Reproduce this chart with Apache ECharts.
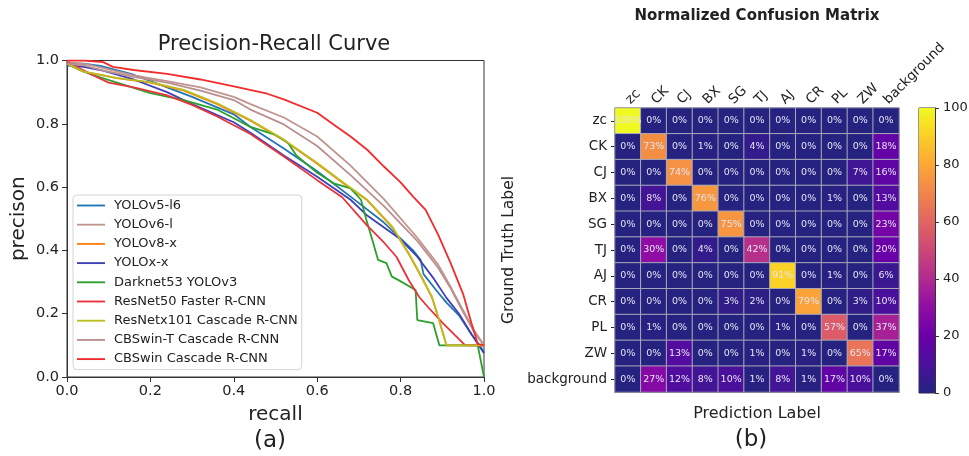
<!DOCTYPE html>
<html><head><meta charset="utf-8">
<script src="https://cdn.jsdelivr.net/npm/echarts@6/dist/echarts.min.js"></script>
<style>html,body{margin:0;padding:0;background:#fff}#c{width:969px;height:456px}</style>
</head><body><div id="c"></div>
<script>
const FONT = 'DejaVu Sans';

// ---------- Precision-Recall data: [recall, precision] ----------
const yolov5_l6 = [[0,0.99],[0.04,0.99],[0.08,0.983],[0.16,0.955],[0.24,0.915],[0.30,0.885],[0.40,0.83],[0.44,0.79],[0.52,0.722],[0.60,0.65],[0.68,0.57],[0.76,0.488],[0.83,0.40],[0.848,0.37],[0.855,0.325],[0.885,0.275],[0.91,0.235],[0.94,0.195],[0.97,0.135],[1.0,0.08]];
const yolov6_l = [[0,0.995],[0.04,0.99],[0.08,0.978],[0.16,0.953],[0.24,0.935],[0.32,0.915],[0.40,0.885],[0.44,0.862],[0.52,0.82],[0.60,0.76],[0.68,0.668],[0.76,0.562],[0.84,0.44],[0.89,0.355],[0.92,0.285],[0.95,0.21],[0.975,0.15],[1.0,0.1]];
const yolov8_x = [[0,0.99],[0.04,0.965],[0.12,0.944],[0.20,0.93],[0.28,0.905],[0.36,0.862],[0.44,0.81],[0.52,0.748],[0.60,0.674],[0.665,0.61],[0.72,0.558],[0.78,0.473],[0.82,0.388],[0.85,0.316],[0.875,0.252],[0.89,0.19],[0.91,0.10],[1.0,0.10]];
const yolox_x = [[0,0.985],[0.04,0.98],[0.08,0.97],[0.16,0.94],[0.24,0.90],[0.30,0.862],[0.40,0.805],[0.44,0.772],[0.52,0.70],[0.60,0.633],[0.68,0.56],[0.72,0.51],[0.746,0.486],[0.80,0.435],[0.84,0.38],[0.88,0.31],[0.91,0.25],[0.94,0.20],[0.97,0.135],[1.0,0.075]];
const darknet53_yolov3 = [[0,0.99],[0.03,0.97],[0.06,0.955],[0.12,0.93],[0.20,0.897],[0.28,0.875],[0.36,0.845],[0.44,0.79],[0.50,0.765],[0.53,0.74],[0.55,0.70],[0.60,0.645],[0.64,0.612],[0.68,0.596],[0.705,0.56],[0.718,0.496],[0.73,0.443],[0.746,0.37],[0.766,0.36],[0.779,0.317],[0.795,0.306],[0.836,0.275],[0.84,0.18],[0.878,0.17],[0.893,0.10],[0.985,0.10],[1.0,0.0]];
const resnet50_faster = [[0,0.995],[0.03,0.975],[0.06,0.955],[0.10,0.93],[0.16,0.915],[0.24,0.89],[0.30,0.86],[0.36,0.823],[0.44,0.768],[0.52,0.697],[0.60,0.622],[0.66,0.568],[0.72,0.478],[0.76,0.425],[0.79,0.38],[0.82,0.305],[0.845,0.252],[0.865,0.222],[0.90,0.172],[0.94,0.12],[0.955,0.10],[1.0,0.10]];
const resnetx101_cascade = [[0,0.99],[0.04,0.965],[0.12,0.944],[0.20,0.932],[0.28,0.907],[0.36,0.865],[0.44,0.812],[0.52,0.75],[0.60,0.676],[0.665,0.612],[0.72,0.56],[0.78,0.475],[0.82,0.39],[0.85,0.318],[0.875,0.254],[0.89,0.19],[0.91,0.10],[1.0,0.10]];
const cbswin_t_cascade = [[0,0.99],[0.04,0.985],[0.08,0.97],[0.16,0.948],[0.24,0.93],[0.32,0.905],[0.40,0.875],[0.44,0.845],[0.52,0.798],[0.60,0.73],[0.68,0.638],[0.76,0.54],[0.84,0.43],[0.89,0.345],[0.92,0.28],[0.95,0.205],[0.975,0.145],[1.0,0.1]];
const cbswin_cascade = [[0,1.0],[0.04,1.0],[0.087,0.995],[0.11,0.98],[0.16,0.97],[0.24,0.958],[0.32,0.94],[0.40,0.918],[0.48,0.895],[0.52,0.877],[0.60,0.835],[0.64,0.797],[0.68,0.76],[0.72,0.718],[0.76,0.665],[0.80,0.615],[0.83,0.57],[0.86,0.528],[0.89,0.45],[0.92,0.36],[0.95,0.262],[0.97,0.17],[0.985,0.105],[1.0,0.1]];

const prNames = ['YOLOv5-l6','YOLOv6-l','YOLOv8-x','YOLOx-x','Darknet53 YOLOv3','ResNet50 Faster R-CNN','ResNetx101 Cascade R-CNN','CBSwin-T Cascade R-CNN','CBSwin Cascade R-CNN'];
const prData = [yolov5_l6, yolov6_l, yolov8_x, yolox_x, darknet53_yolov3, resnet50_faster, resnetx101_cascade, cbswin_t_cascade, cbswin_cascade];
const prColors = ['#1f77b4','#c09590','#ff7f0e','#3f40b5','#2ca02c','#e8333a','#bcbd22','#bc8f8f','#f22b2b'];

// ---------- Confusion matrix (rows: ground truth, cols: prediction), % ----------
const cmClasses = ['zc','CK','CJ','BX','SG','TJ','AJ','CR','PL','ZW','background'];
const row_zc = [100,0,0,0,0,0,0,0,0,0,0];
const row_CK = [0,73,0,1,0,4,0,0,0,0,18];
const row_CJ = [0,0,74,0,0,0,0,0,0,7,16];
const row_BX = [0,8,0,76,0,0,0,0,1,0,13];
const row_SG = [0,0,0,0,75,0,0,0,0,0,23];
const row_TJ = [0,30,0,4,0,42,0,0,0,0,20];
const row_AJ = [0,0,0,0,0,0,91,0,1,0,6];
const row_CR = [0,0,0,0,3,2,0,79,0,3,10];
const row_PL = [0,1,0,0,0,0,1,0,57,0,37];
const row_ZW = [0,0,13,0,0,1,0,1,0,65,17];
const row_background = [0,27,12,8,10,1,8,1,17,10,0];
const cmRows = [row_zc,row_CK,row_CJ,row_BX,row_SG,row_TJ,row_AJ,row_CR,row_PL,row_ZW,row_background];

const colorbarTicks = [0,20,40,60,80,100];
const prTicks = [0.0,0.2,0.4,0.6,0.8,1.0];

const plasma = ['#25237f','#4a109c','#6a00a8','#8f0da4','#b12a90','#cc4778','#e16462','#f2844b','#fca636','#fcce25','#f0f921'];

const heatData = [];
cmRows.forEach((row, r) => row.forEach((v, c) => heatData.push([c, r, v])));

const axisCol = '#333';
const txtCol = '#222';

const series = prData.map((d, i) => ({
  type: 'line', name: prNames[i], data: d, xAxisIndex: 0, yAxisIndex: 0,
  symbol: 'none', showSymbol: false, animation: false,
  lineStyle: { width: 1.8, color: prColors[i] }, itemStyle: { color: prColors[i] },
  emphasis: { disabled: true }
}));

series.push({
  type: 'heatmap', xAxisIndex: 1, yAxisIndex: 1, data: heatData, animation: false,
  itemStyle: { borderColor: '#a9a9ba', borderWidth: 1 },
  label: { show: true, formatter: p => p.value[2] + '%', fontSize: 9.5, color: '#e6e4f4', fontFamily: FONT },
  emphasis: { disabled: true }
});

series.push({
  type: 'bar', xAxisIndex: 3, yAxisIndex: 2, data: [colorbarTicks[colorbarTicks.length - 1]],
  barWidth: '100%', animation: false, silent: true,
  itemStyle: { color: { type: 'linear', x: 0, y: 1, x2: 0, y2: 0,
    colorStops: plasma.map((c, i) => ({ offset: i / (plasma.length - 1), color: c })) } }
});

const option = {
  backgroundColor: '#fff',
  animation: false,
  textStyle: { fontFamily: FONT },
  title: [
    { text: 'Precision-Recall Curve', left: 274, top: 34, textAlign: 'center', padding: 0,
      textStyle: { fontFamily: FONT, fontSize: 21, fontWeight: 'normal', color: txtCol } },
    { text: 'Normalized Confusion Matrix', left: 757, top: 9, textAlign: 'center', padding: 0,
      textStyle: { fontFamily: FONT, fontSize: 15, fontWeight: 'bold', color: txtCol } },
    { text: '(a)', left: 270, top: 430, textAlign: 'center', padding: 0,
      textStyle: { fontFamily: FONT, fontSize: 23, fontWeight: 'normal', color: txtCol } },
    { text: '(b)', left: 751, top: 429, textAlign: 'center', padding: 0,
      textStyle: { fontFamily: FONT, fontSize: 23, fontWeight: 'normal', color: txtCol } }
  ],
  legend: {
    data: prNames, left: 73, top: 195, orient: 'vertical',
    icon: 'path://M0,0H30V2H0Z', symbolKeepAspect: true,
    itemWidth: 28, itemHeight: 14, itemGap: 6.2, padding: [4, 4, 4, 4],
    backgroundColor: '#fff', borderColor: '#d4d4d4', borderWidth: 1, borderRadius: 4,
    textStyle: { fontFamily: FONT, fontSize: 13, color: txtCol, padding: [0, 0, 0, 4] },
    selectedMode: false
  },
  grid: [
    { left: 67, top: 60.5, width: 417, height: 316.5, show: true, borderColor: axisCol, borderWidth: 1, backgroundColor: 'transparent', outerBoundsMode: 'none', containLabel: false },
    { left: 615, top: 108, width: 284, height: 284, show: true, borderColor: '#222', borderWidth: 1, backgroundColor: 'transparent', outerBoundsMode: 'none', containLabel: false },
    { left: 919, top: 108, width: 16, height: 285, show: true, borderColor: axisCol, borderWidth: 1, backgroundColor: 'transparent', outerBoundsMode: 'none', containLabel: false }
  ],
  xAxis: [
    { gridIndex: 0, type: 'value', min: prTicks[0], max: prTicks[prTicks.length - 1], interval: 0.2,
      name: 'recall', nameLocation: 'middle', nameGap: 28,
      nameTextStyle: { fontFamily: FONT, fontSize: 20, color: txtCol },
      axisLine: { lineStyle: { color: axisCol } }, axisTick: { length: 5, lineStyle: { color: axisCol } },
      axisLabel: { fontFamily: FONT, fontSize: 14.5, color: txtCol, margin: 7, formatter: v => v.toFixed(1) },
      splitLine: { show: false } },
    { gridIndex: 1, type: 'category', data: cmClasses, position: 'top',
      axisLine: { lineStyle: { color: '#222' } },
      axisTick: { alignWithLabel: true, interval: 0, length: 4, lineStyle: { color: '#222' } },
      axisLabel: { interval: 0, rotate: -45, fontFamily: FONT, fontSize: 13.5, color: txtCol, margin: 6 },
      splitLine: { show: false }, splitArea: { show: false } },
    { gridIndex: 1, type: 'category', data: cmClasses, position: 'bottom',
      name: 'Prediction Label', nameLocation: 'middle', nameGap: 14,
      nameTextStyle: { fontFamily: FONT, fontSize: 16, color: txtCol },
      axisLine: { lineStyle: { color: '#222' } },
      axisTick: { alignWithLabel: false, interval: 0, length: 4, lineStyle: { color: '#222' } },
      axisLabel: { show: false }, splitLine: { show: false } },
    { gridIndex: 2, type: 'category', data: ['cb'], show: false }
  ],
  yAxis: [
    { gridIndex: 0, type: 'value', min: prTicks[0], max: prTicks[prTicks.length - 1], interval: 0.2,
      name: 'precison', nameLocation: 'middle', nameGap: 38, nameRotate: 90,
      nameTextStyle: { fontFamily: FONT, fontSize: 20, color: txtCol },
      axisLine: { show: true, lineStyle: { color: axisCol } }, axisTick: { show: true, length: 5, lineStyle: { color: axisCol } },
      axisLabel: { fontFamily: FONT, fontSize: 14.5, color: txtCol, margin: 8, formatter: v => v.toFixed(1) },
      splitLine: { show: false } },
    { gridIndex: 1, type: 'category', data: cmClasses, inverse: true,
      name: 'Ground Truth Label', nameLocation: 'middle', nameGap: 98, nameRotate: 90,
      nameTextStyle: { fontFamily: FONT, fontSize: 15.5, color: txtCol },
      axisLine: { show: true, lineStyle: { color: '#222' } },
      axisTick: { show: true, alignWithLabel: true, interval: 0, length: 4, lineStyle: { color: '#222' } },
      axisLabel: { interval: 0, fontFamily: FONT, fontSize: 13.5, color: txtCol, margin: 8 },
      splitLine: { show: false }, splitArea: { show: false } },
    { gridIndex: 2, type: 'value', min: colorbarTicks[0], max: colorbarTicks[colorbarTicks.length - 1], interval: 20,
      position: 'right',
      axisLine: { show: true, lineStyle: { color: axisCol } },
      axisTick: { show: true, length: 4, lineStyle: { color: axisCol } },
      axisLabel: { fontFamily: FONT, fontSize: 13, color: txtCol, margin: 8 },
      splitLine: { show: false } }
  ],
  visualMap: {
    type: 'continuous', show: false, min: 0, max: 100, seriesIndex: 9, dimension: 2,
    inRange: { color: plasma }
  },
  series: series
};

const chart = echarts.init(document.getElementById('c'), null, { renderer: 'canvas' });
chart.setOption(option);
</script>
</body></html>
